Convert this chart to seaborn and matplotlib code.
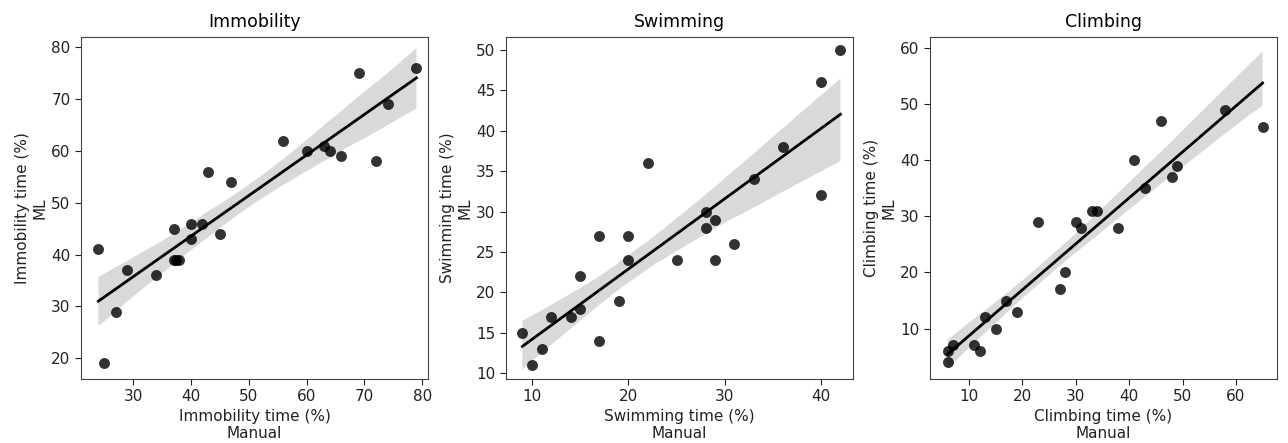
import matplotlib
matplotlib.use("Agg")
import matplotlib.pyplot as plt
import seaborn as sns
import numpy as np

imm_manual = [24, 25, 27, 29, 34, 37, 37, 37.5, 38, 40, 40, 42, 43, 45, 47, 56, 60, 63, 64, 66, 69, 72, 74, 79]
imm_ml     = [41, 19, 29, 37, 36, 45, 39, 39, 39, 46, 43, 46, 56, 44, 54, 62, 60, 61, 60, 59, 75, 58, 69, 76]

swim_manual = [9, 10, 11, 12, 14, 15, 15, 17, 17, 19, 20, 20, 22, 25, 28, 28, 29, 29, 31, 33, 36, 40, 40, 42]
swim_ml     = [15, 11, 13, 17, 17, 22, 18, 27, 14, 19, 27, 24, 36, 24, 30, 28, 29, 24, 26, 34, 38, 46, 32, 50]

climb_manual = [6, 6, 7, 11, 12, 13, 15, 17, 19, 23, 27, 28, 30, 31, 33, 34, 38, 41, 43, 46, 48, 49, 58, 65]
climb_ml     = [6, 4, 7, 7, 6, 12, 10, 15, 13, 29, 17, 20, 29, 28, 31, 31, 28, 40, 35, 47, 37, 39, 49, 46]

titles = ["Immobility", "Swimming", "Climbing"]
measures = ["Immobility time (%)", "Swimming time (%)", "Climbing time (%)"]
data = [(imm_manual, imm_ml), (swim_manual, swim_ml), (climb_manual, climb_ml)]

fig = plt.figure(figsize=(12.88, 4.43), dpi=100)
W, H = 1288, 443
lefts = [81, 506, 930]
aw, ah = 347, 342
top = 37
axes = []
for l in lefts:
    ax = fig.add_axes([l / W, (H - top - ah) / H, aw / W, ah / H])
    axes.append(ax)

for ax, (x, y), t, m in zip(axes, data, titles, measures):
    sns.regplot(x=np.array(x), y=np.array(y), ax=ax, color="black", seed=1,
                scatter_kws={"s": 62, "alpha": 0.8, "linewidths": 0},
                line_kws={"linewidth": 2})
    ax.set_title(t, fontsize=12.5, pad=7)
    ax.set_xlabel(m + "\nManual", fontsize=11, labelpad=3, color="#222222")
    ax.set_ylabel(m + "\nML", fontsize=11, labelpad=3, color="#222222")
    ax.tick_params(labelsize=11, colors="#222222", length=4)
    for s in ax.spines.values():
        s.set_color("#444444")

axes[0].set_xlim(21, 81)
axes[0].set_ylim(16, 82)
axes[0].set_xticks([30, 40, 50, 60, 70, 80])
axes[1].set_xlim(7.3, 43.3)
axes[1].set_ylim(9.3, 51.6)
axes[2].set_xlim(2.7, 67.7)
axes[2].set_ylim(1.0, 62.0)

fig.savefig("out.png", dpi=100)
